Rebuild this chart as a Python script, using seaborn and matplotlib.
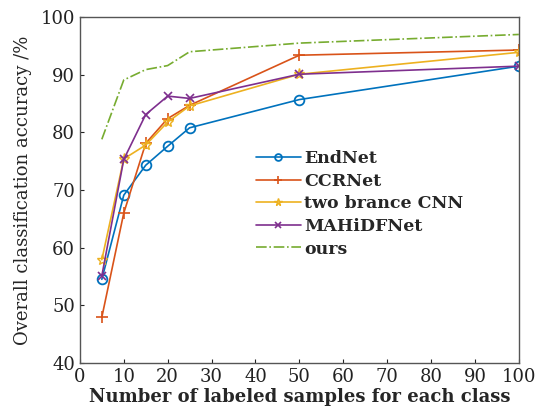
import matplotlib
matplotlib.use("Agg")
import matplotlib.pyplot as plt
import seaborn as sns
import pandas as pd

samples = [5, 10, 15, 20, 25, 50, 100]
endnet = [54.5, 69.1, 74.3, 77.6, 80.8, 85.7, 91.5]
ccrnet = [47.9, 66.0, 78.1, 82.4, 84.7, 93.4, 94.3]
two_branch_cnn = [57.9, 75.4, 77.8, 81.8, 84.6, 90.1, 93.9]
mahidfnet = [55.1, 75.3, 83.1, 86.3, 85.9, 90.1, 91.5]
ours = [78.8, 89.1, 90.9, 91.6, 94.0, 95.5, 97.0]

series_names = ["EndNet", "CCRNet", "two brance CNN", "MAHiDFNet", "ours"]
series_values = [endnet, ccrnet, two_branch_cnn, mahidfnet, ours]

x_ticks = list(range(0, 101, 10))
y_ticks = list(range(40, 101, 10))

styles = {
    "EndNet": dict(color="#0072BD", marker="o", ls="-", ms=7, mew=1.3),
    "CCRNet": dict(color="#D95319", marker="+", ls="-", ms=9, mew=1.2),
    "two brance CNN": dict(color="#EDB120", marker="*", ls="-", ms=8, mew=1.0),
    "MAHiDFNet": dict(color="#7E2F8E", marker="x", ls="-", ms=6, mew=1.2),
    "ours": dict(color="#77AC30", marker=None, ls="-.", ms=0, mew=0),
}

sns.set_theme(style="white")
plt.rcParams["font.family"] = ["DejaVu Serif"]

fig = plt.figure(figsize=(5.36, 4.19), dpi=100)
ax = fig.add_axes([0.149, 0.134, 0.819, 0.825])

for name, vals in zip(series_names, series_values):
    df = pd.DataFrame({"samples": samples, "accuracy": vals})
    st = styles[name]
    sns.lineplot(data=df, x="samples", y="accuracy", ax=ax, label=name,
                 color=st["color"], marker=st["marker"], linestyle=st["ls"],
                 markerfacecolor="none", markeredgecolor=st["color"],
                 markersize=st["ms"], markeredgewidth=st["mew"], linewidth=1.2)

ax.set_xlim(0, 100)
ax.set_ylim(40, 100)
ax.set_xticks(x_ticks)
ax.set_yticks(y_ticks)
ax.tick_params(direction="in", length=3, width=0.8, labelsize=13, colors="#222222",
               top=False, right=False, bottom=True, left=True)
for sp in ax.spines.values():
    sp.set_color("#555555")
    sp.set_linewidth(1.0)

ax.set_xlabel("Number of labeled samples for each class", fontsize=13, fontweight="bold", labelpad=2)
ax.set_ylabel("Overall classification accuracy /%", fontsize=13, labelpad=6)

leg = ax.legend(loc="upper left", bbox_to_anchor=(0.385, 0.635), frameon=False,
                fontsize=12.5, handlelength=2.6, handletextpad=0.2, labelspacing=0.32,
                borderaxespad=0, markerscale=0.7)
for t in leg.get_texts():
    t.set_fontweight("bold")

fig.savefig("out.png", dpi=100)
